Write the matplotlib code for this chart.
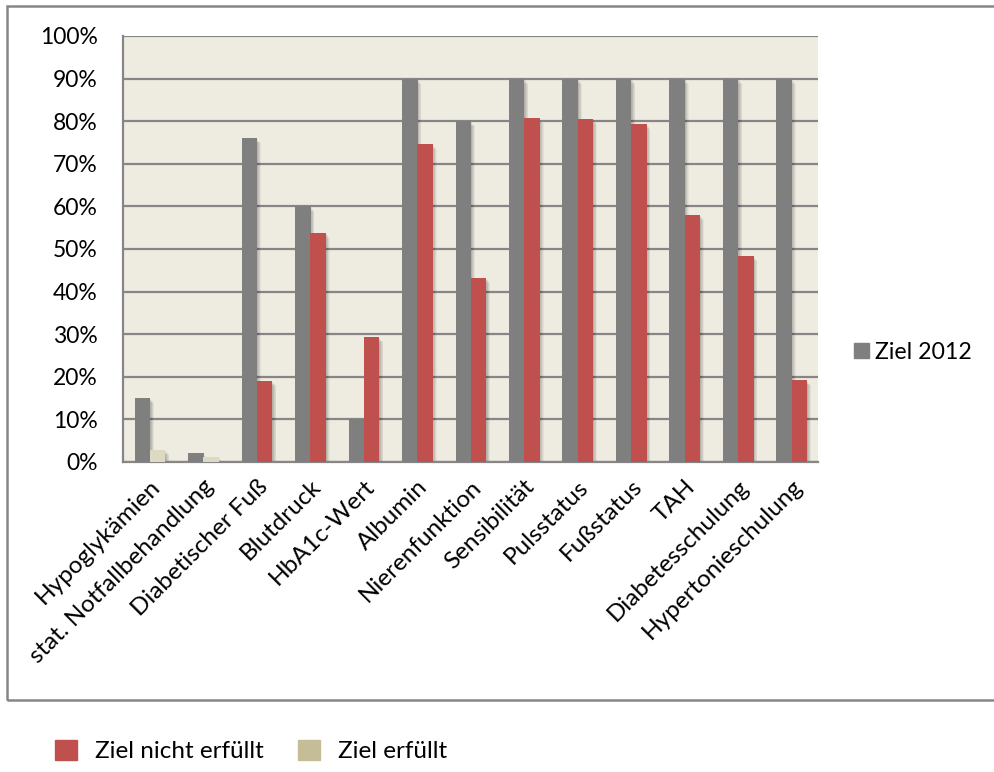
import matplotlib.pyplot as plt
import numpy as np
from matplotlib.patches import Rectangle, Patch
from matplotlib.ticker import FuncFormatter

plt.rcParams['font.family'] = ['Lato', 'DejaVu Sans']

categories = ["Hypoglykämien", "stat. Notfallbehandlung", "Diabetischer Fuß",
              "Blutdruck", "HbA1c-Wert", "Albumin", "Nierenfunktion",
              "Sensibilität", "Pulsstatus", "Fußstatus", "TAH",
              "Diabetesschulung", "Hypertonieschulung"]
ziel_2012 = [15, 2, 76, 60, 10, 90, 80, 90, 90, 90, 90, 90, 90]
nicht_erfuellt = [0, 0, 19, 53.8, 29.3, 74.6, 43.2, 80.7, 80.6, 79.4, 58.0, 48.4, 19.2]
erfuellt = [2.8, 1.1, 0, 0, 0, 0, 0, 0, 0, 0, 0, 0, 0]

GRAY = "#7f7f7f"
RED = "#c0504d"
BEIGE_BAR = "#ddd9c3"
BEIGE_LEG = "#c4bd97"

fig = plt.figure(figsize=(9.95, 7.72), dpi=100)
ax = fig.add_axes([0.1236, 0.4016, 0.6985, 0.5518])
ax.set_facecolor("#eeebe0")

x = np.arange(len(categories))
w = 0.29
g = np.array(ziel_2012) / 100
r = np.array(nicht_erfuellt) / 100
b = np.array(erfuellt) / 100

# soft shadows to the right of the bars
for k in range(1, 7):
    off = 0.012 * k
    for xs, vals in ((x - 0.135, g), (x + 0.15, r), (x + 0.15, b)):
        ax.bar(xs + off, vals - 0.002 * k, w, color="black", alpha=0.045,
               zorder=2, linewidth=0)

ax.bar(x - 0.135, g, w, color=GRAY, zorder=3, linewidth=0)
ax.bar(x + 0.15, r, w, color=RED, zorder=3, linewidth=0)
ax.bar(x + 0.15, b, w, color=BEIGE_BAR, zorder=3, linewidth=0)

ax.set_xlim(-0.5, len(categories) - 0.5)
ax.set_ylim(0, 1)
ax.set_yticks(np.arange(0, 1.01, 0.1))
ax.yaxis.set_major_formatter(FuncFormatter(lambda v, p: f"{v*100:.0f}%"))
ax.grid(axis="y", color="#868686", linewidth=1.6, zorder=1)
ax.set_axisbelow(True)
for s in ("top", "right"):
    ax.spines[s].set_visible(False)
for s in ("left", "bottom"):
    ax.spines[s].set_color("#868686")
    ax.spines[s].set_linewidth(1.6)
ax.tick_params(axis="both", length=0, colors="black")
ax.tick_params(axis="y", pad=18, labelsize=16.5)
ax.set_xticks(x)
ax.set_xticklabels(categories, rotation=45, ha="right", va="top",
                   rotation_mode="anchor", fontsize=17.5)
ax.tick_params(axis="x", pad=10)

# legend for Ziel 2012 on the right
ax.legend(handles=[Patch(color=GRAY, label="Ziel 2012")],
          loc="center left", bbox_to_anchor=(0.858, 0.544),
          bbox_transform=fig.transFigure, frameon=False, fontsize=16.7,
          handlelength=0.65, handleheight=0.65, handletextpad=0.25,
          borderpad=0, borderaxespad=0)

# outer chart frame
fig.patches.append(Rectangle((7 / 995, 1 - 700 / 772), 1.0, 694 / 772,
                             transform=fig.transFigure, fill=False,
                             edgecolor="#868686", linewidth=1.8))

fig.legend(handles=[Patch(color=RED, label="Ziel nicht erfüllt"),
                    Patch(color=BEIGE_LEG, label="Ziel erfüllt")],
           loc="center left", bbox_to_anchor=(55 / 995, 0.027), ncol=2,
           frameon=False, fontsize=17.5, handlelength=0.9, handleheight=0.9,
           handletextpad=0.75, columnspacing=1.4, borderpad=0,
           borderaxespad=0)

fig.savefig("out.png", dpi=100)
